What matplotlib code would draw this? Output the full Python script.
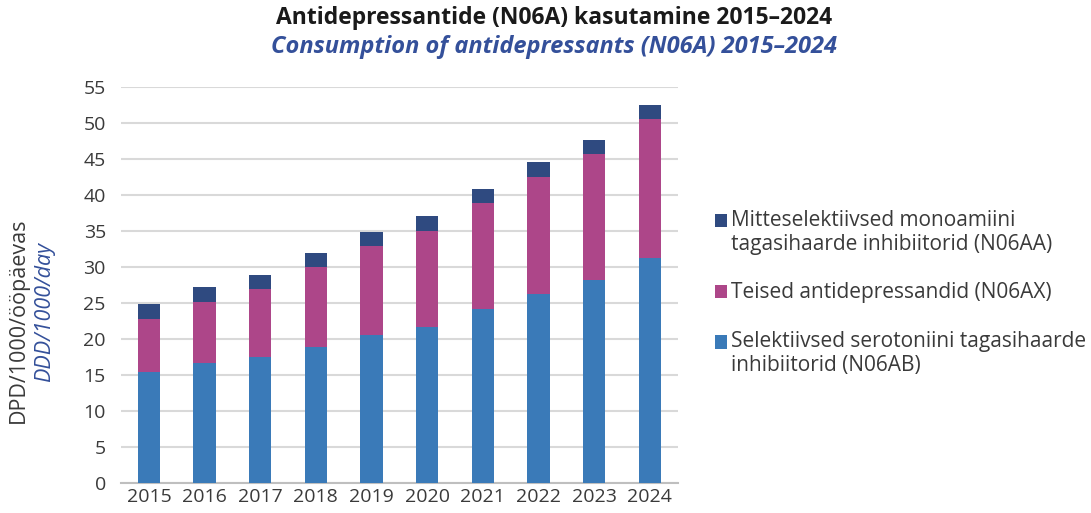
import matplotlib.pyplot as plt
import matplotlib.patches as mpatches
from matplotlib.legend_handler import HandlerPatch, update_from_first_child
import numpy as np

years = ['2015', '2016', '2017', '2018', '2019', '2020', '2021', '2022', '2023', '2024']
ssri = [15.4, 16.7, 17.5, 18.9, 20.5, 21.7, 24.1, 26.3, 28.2, 31.2]
other = [7.4, 8.4, 9.4, 11.1, 12.4, 13.3, 14.8, 16.2, 17.5, 19.4]
nonsel = [2.0, 2.1, 2.0, 1.9, 1.9, 2.1, 1.9, 2.1, 1.9, 1.9]

labels = ['Mitteselektiivsed monoamiini\ntagasihaarde inhibiitorid (N06AA)',
          'Teised antidepressandid (N06AX)',
          'Selektiivsed serotoniini tagasihaarde\ninhibiitorid (N06AB)']

C_BLUE = '#3a7ab8'
C_MAG = '#ad4689'
C_NAVY = '#2f4a80'
C_TXT = '#3a3a3a'
C_SUB = '#34509a'

plt.rcParams['font.family'] = ['Open Sans', 'DejaVu Sans']


def first_line_patch(legend, orig_handle, xdescent, ydescent, width, height, fontsize):
    # move the square up to the first line of a two-line label
    return mpatches.Rectangle((-xdescent, -ydescent + 0.6 * fontsize), width, height)


fig = plt.figure(figsize=(10.91, 5.13), dpi=100)
ax = fig.add_axes([0.111, 0.059, 0.51, 0.771])

x = np.arange(len(years))
w = 0.4
b1 = ax.bar(x, ssri, w, color=C_BLUE, zorder=3)
b2 = ax.bar(x, other, w, bottom=ssri, color=C_MAG, zorder=3)
bottom3 = np.array(ssri) + np.array(other)
b3 = ax.bar(x, nonsel, w, bottom=bottom3, color=C_NAVY, zorder=3)

ax.set_xlim(-0.5, len(years) - 0.5)
ax.set_ylim(0, 55)
ax.set_yticks(range(0, 56, 5))
ax.set_xticks(x)
ax.set_xticklabels(years)
ax.yaxis.grid(True, color='#d9d9d9', linewidth=1.5, zorder=0)
ax.set_axisbelow(True)
for s in ['top', 'right', 'left']:
    ax.spines[s].set_visible(False)
ax.spines['bottom'].set_color('#bfbfbf')
ax.spines['bottom'].set_linewidth(1.5)
ax.tick_params(axis='both', length=0, labelsize=14, colors=C_TXT)
ax.tick_params(axis='y', pad=11)
ax.tick_params(axis='x', pad=4)

fig.text(0.017, 0.376, 'DPD/1000/ööpäevas', rotation=90, ha='center', va='center',
         fontsize=15.5, color=C_TXT)
fig.text(0.041, 0.392, 'DDD/1000/day', rotation=90, ha='center', va='center',
         fontsize=15.5, color=C_SUB, style='italic')

fig.text(0.508, 0.965, 'Antidepressantide (N06A) kasutamine 2015–2024', ha='center', va='center',
         fontsize=16.5, fontweight='bold', color='#1a1a1a')
fig.text(0.508, 0.908, 'Consumption of antidepressants (N06A) 2015–2024', ha='center', va='center',
         fontsize=17, fontweight='bold', style='italic', color=C_SUB)

hmap = {b3: HandlerPatch(patch_func=first_line_patch, update_func=update_from_first_child),
        b1: HandlerPatch(patch_func=first_line_patch, update_func=update_from_first_child)}
leg = fig.legend([b3, b2, b1], labels, loc='upper left', bbox_to_anchor=(0.638, 0.628),
                 frameon=False, fontsize=15, labelcolor=C_TXT, handlelength=0.6, handleheight=0.6,
                 handletextpad=0.2, labelspacing=1.33, handler_map=hmap)
for t in leg.get_texts():
    t.set_linespacing(1.2)

fig.savefig('out.png', dpi=100)
